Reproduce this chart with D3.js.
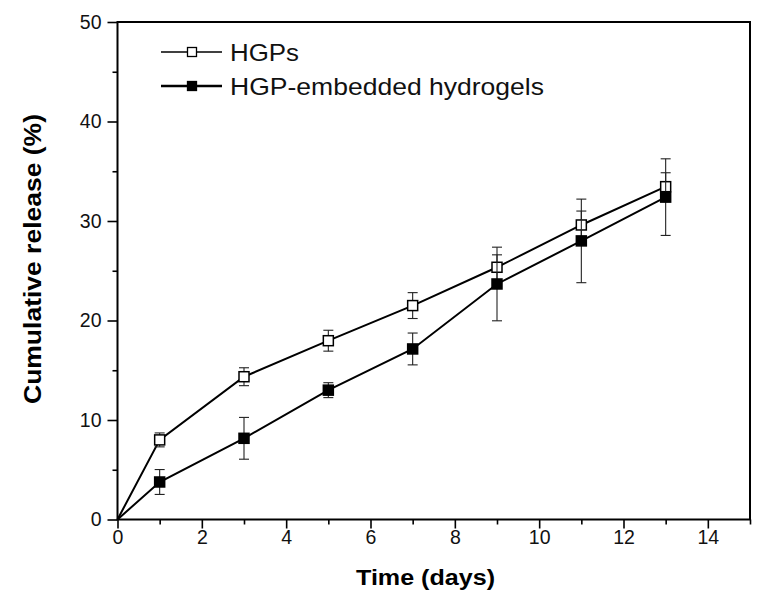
<!DOCTYPE html>
<html><head><meta charset="utf-8">
<script src="https://cdn.jsdelivr.net/npm/d3@7"></script>
<style>body{margin:0;background:#fff}svg{display:block}</style>
</head><body>
<svg id="c" width="759" height="594"></svg>
<script>
const days = [0, 1, 3, 5, 7, 9, 11, 13];
const hgps = [0, 8.0, 14.35, 17.97, 21.5, 25.35, 29.6, 33.45];
const hgpsErr = [0, 0.7, 0.9, 1.05, 1.3, 1.25, 1.4, 1.4];
const hydrogel = [0, 3.77, 8.16, 13.0, 17.14, 23.67, 28.0, 32.4];
const hydrogelErr = [0, 1.25, 2.1, 0.75, 1.6, 3.7, 4.2, 3.85];
const xTicks = [0, 2, 4, 6, 8, 10, 12, 14];
const xMinor = [1, 3, 5, 7, 9, 11, 13, 15];
const yTicks = [0, 10, 20, 30, 40, 50];
const yMinor = [5, 15, 25, 35, 45];
const seriesNames = ["HGPs", "HGP-embedded hydrogels"];

const svg = d3.select("#c");
const font = "'Liberation Sans', Arial, Helvetica, sans-serif";
const L = 117.5, R = 750, T = 22, B = 519.5;
const x = d3.scaleLinear().domain([0, 15]).range([L, R]);
const y = d3.scaleLinear().domain([0, 50]).range([B, T]);

// frame
svg.append("rect").attr("x", L).attr("y", T).attr("width", R - L).attr("height", B - T)
  .attr("fill", "none").attr("stroke", "#000").attr("stroke-width", 2);

// x axis
const xa = svg.append("g").attr("transform", `translate(0,${B})`)
  .call(d3.axisBottom(x).tickValues(xTicks).tickSize(9).tickPadding(4).tickFormat(d3.format("d")));
const xm = svg.append("g").attr("transform", `translate(0,${B})`)
  .call(d3.axisBottom(x).tickValues(xMinor).tickSize(5).tickFormat(""));
// y axis
const ya = svg.append("g").attr("transform", `translate(${L},0)`)
  .call(d3.axisLeft(y).tickValues(yTicks).tickSize(10).tickPadding(6).tickFormat(d3.format("d")));
const ym = svg.append("g").attr("transform", `translate(${L},0)`)
  .call(d3.axisLeft(y).tickValues(yMinor).tickSize(5).tickFormat(""));
[xa, xm, ya, ym].forEach(g => {
  g.select(".domain").remove();
  g.selectAll(".tick line").attr("stroke", "#000").attr("stroke-width", 1.6);
  g.selectAll(".tick text").attr("font-family", font).attr("font-size", 19.5).attr("fill", "#111");
});
xa.selectAll(".tick text").attr("dy", "0.71em").attr("y", 10.5);

// axis titles
svg.append("text").attr("x", 425.5).attr("y", 585).attr("text-anchor", "middle")
  .attr("font-family", font).attr("font-weight", "bold").attr("font-size", 22)
  .attr("textLength", 139).attr("lengthAdjust", "spacingAndGlyphs")
  .text("Time (days)");
svg.append("text").attr("transform", "translate(41,259) rotate(-90)").attr("text-anchor", "middle")
  .attr("font-family", font).attr("font-weight", "bold").attr("font-size", 23)
  .attr("textLength", 290).attr("lengthAdjust", "spacingAndGlyphs")
  .text("Cumulative release (%)");

// series
const series = [
  {vals: hgps, err: hgpsErr, fill: "#fff"},
  {vals: hydrogel, err: hydrogelErr, fill: "#000"}
];
const line = d3.line().x((d, i) => x(days[i])).y(d => y(d));
series.forEach(s => {
  svg.append("path").datum(s.vals).attr("d", line).attr("fill", "none")
    .attr("stroke", "#000").attr("stroke-width", 2);
});
series.forEach(s => {
  const g = svg.append("g");
  const pts = s.vals.map((v, i) => ({x: days[i], v, e: s.err[i]})).filter(d => d.x > 0);
  pts.forEach(d => {
    const cx = x(d.x);
    g.append("line").attr("x1", cx).attr("x2", cx).attr("y1", y(d.v - d.e)).attr("y2", y(d.v + d.e))
      .attr("stroke", "#222").attr("stroke-width", 1.1);
    [d.v - d.e, d.v + d.e].forEach(v => g.append("line").attr("x1", cx - 5).attr("x2", cx + 5)
      .attr("y1", y(v)).attr("y2", y(v)).attr("stroke", "#222").attr("stroke-width", 1.1));
  });
  g.selectAll("rect").data(pts).join("rect")
    .attr("x", d => x(d.x) - 5).attr("y", d => y(d.v) - 5).attr("width", 10).attr("height", 10)
    .attr("fill", s.fill).attr("stroke", "#000").attr("stroke-width", 1.5);
});

// legend
const leg = svg.append("g");
const legY = [52, 86];
const legW = [1.4, 2.6];
const legLen = [69, 314];
seriesNames.forEach((name, i) => {
  leg.append("line").attr("x1", 161).attr("x2", 222).attr("y1", legY[i]).attr("y2", legY[i])
    .attr("stroke", "#000").attr("stroke-width", legW[i]);
  leg.append("rect").attr("x", 187.5).attr("y", legY[i] - 4.5).attr("width", 9).attr("height", 9)
    .attr("fill", series[i].fill).attr("stroke", "#000").attr("stroke-width", 1.3);
  leg.append("text").attr("x", 230).attr("y", legY[i] + 9).attr("font-family", font)
    .attr("font-size", 24.5).attr("fill", "#111")
    .attr("textLength", legLen[i]).attr("lengthAdjust", "spacingAndGlyphs").text(name);
});
</script>
</body></html>
